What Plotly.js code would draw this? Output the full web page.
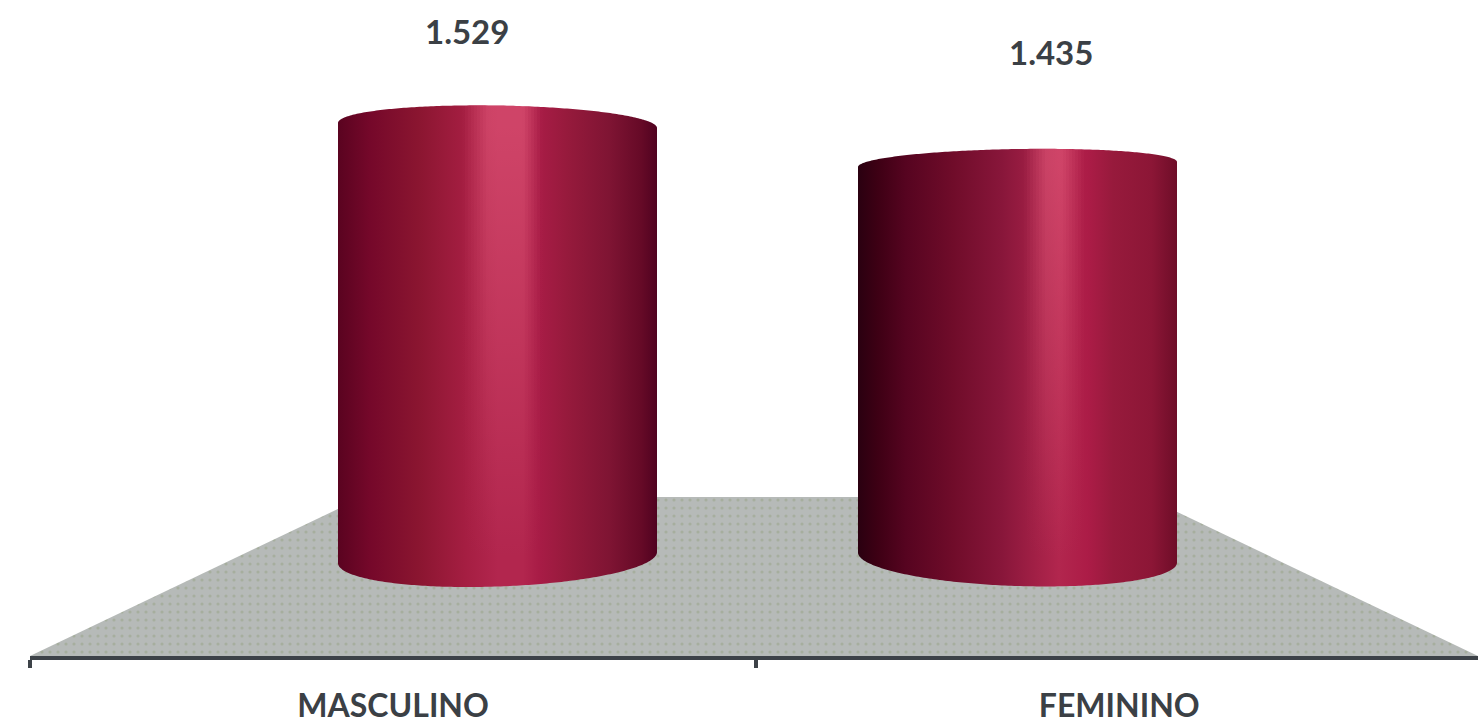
<!DOCTYPE html>
<html>
<head>
<meta charset="utf-8">
<script src="https://cdn.plot.ly/plotly-3.0.1.min.js"></script>
<style>html,body{margin:0;padding:0;background:#fff;overflow:hidden}#chart{width:1478px;height:724px}</style>
</head>
<body>
<div id="chart"></div>
<script>
// Data
var categories = ['MASCULINO', 'FEMININO'];
var values = [1529, 1435];
var valueLabels = ['1.529', '1.435'];

// Layout of the pseudo-3D scene
var W = 1478, H = 724, mL = 30, mT = 0, mB = 68;
var xMin = -0.5, xMax = 1.494, yMax = 1831.4, yMin = 250.7;
var pxX = (W - mL) / (xMax - xMin), pxY = (H - mT - mB) / (yMax - yMin);
var cylinderBase = 488;
var cylinderPxLeft = [338, 858];
var cylinderPxWidth = 319;
var topCurvePx = [20, 15.5];
var topTiltPx = [2.5, -2.5];
var bottomCurvePx = [29, 28.5];
var bottomTiltPx = [-5.5, 5];
var labelOffsetX = [-30.5, 33.5];
var labelOffsetY = [94.5, 112.5];
var gradients = [
  [[0,'#5a0320'],[0.1,'#75082a'],[0.25,'#8a1530'],[0.4,'#a51e42'],[0.5,'#b2264e'],[0.58,'#b2264e'],[0.63,'#a81c46'],[0.72,'#961a3c'],[0.85,'#7f1433'],[0.95,'#660a27'],[1,'#500220']],
  [[0,'#2a0010'],[0.06,'#3d0014'],[0.15,'#560420'],[0.3,'#700c2a'],[0.45,'#88163a'],[0.55,'#a01f45'],[0.63,'#b2264e'],[0.72,'#ac1c47'],[0.8,'#971a3c'],[0.92,'#8c1636'],[1,'#6e0d28']]
];
// Highlight band: [start, full start, full end, end] as fractions of the width
var highlights = [[0.39, 0.47, 0.58, 0.64], [0.52, 0.59, 0.64, 0.71]];
var highlightAlpha = 0.38;
var stripPx = 3;

function toX(px) { return xMin + (px - mL) / pxX; }

function arcY(center, curvePx, tiltPx, t, sign) {
  // t: fraction across the width; returns a y value on the sheared ellipse
  var c = 2 * t - 1, s = Math.sqrt(Math.max(0, 1 - c * c));
  return center + sign * (curvePx * s) / pxY - (tiltPx * c) / pxY;
}

function cylinderPath(i) {
  var xs = [], ys = [], n = 160, k, t, a;
  for (k = 0; k <= n; k++) {
    a = Math.PI * k / n; t = (1 - Math.cos(a)) / 2;
    xs.push(toX(cylinderPxLeft[i] + t * cylinderPxWidth));
    ys.push(arcY(values[i], topCurvePx[i], topTiltPx[i], t, 1));
  }
  for (k = n; k >= 0; k--) {
    a = Math.PI * k / n; t = (1 - Math.cos(a)) / 2;
    xs.push(toX(cylinderPxLeft[i] + t * cylinderPxWidth));
    ys.push(arcY(cylinderBase, bottomCurvePx[i], bottomTiltPx[i], t, -1));
  }
  xs.push(xs[0]); ys.push(ys[0]);
  return {x: xs, y: ys};
}

function bandWeight(h, t) {
  if (t <= h[0] || t >= h[3]) return 0;
  if (t < h[1]) return (t - h[0]) / (h[1] - h[0]);
  if (t > h[2]) return (h[3] - t) / (h[3] - h[2]);
  return 1;
}

var floorTopY = yMax - 497 / pxY;
var traces = [{
  type: 'scatter', mode: 'none', hoverinfo: 'skip', showlegend: false,
  x: [xMin, toX(363), toX(1146), xMax, xMin],
  y: [yMin, floorTopY, floorTopY, yMin, yMin],
  fill: 'toself',
  fillcolor: '#b6bab8',
  fillpattern: {shape: '.', bgcolor: '#b6bab8', fgcolor: '#a6ae9e', size: 8, solidity: 0.12}
}];
categories.forEach(function (c, i) {
  var p = cylinderPath(i);
  traces.push({
    type: 'scatter', mode: 'none', name: c, showlegend: false, hoverinfo: 'name',
    x: p.x, y: p.y, fill: 'toself',
    fillgradient: {type: 'horizontal', colorscale: gradients[i]}
  });
  // highlight fading downwards, built of thin vertical strips
  var h = highlights[i], left = cylinderPxLeft[i], w = cylinderPxWidth;
  var startPx = Math.round(left + h[0] * w), endPx = Math.round(left + h[3] * w);
  for (var px = startPx; px < endPx; px += stripPx) {
    var t0 = (px - left) / w, t1 = (px + stripPx - left) / w;
    var a = highlightAlpha * bandWeight(h, (t0 + t1) / 2);
    if (a <= 0) continue;
    traces.push({
      type: 'scatter', mode: 'none', hoverinfo: 'skip', showlegend: false,
      x: [toX(px), toX(px + stripPx), toX(px + stripPx), toX(px), toX(px)],
      y: [arcY(values[i], topCurvePx[i], topTiltPx[i], t0, 1), arcY(values[i], topCurvePx[i], topTiltPx[i], t1, 1),
          cylinderBase, cylinderBase, arcY(values[i], topCurvePx[i], topTiltPx[i], t0, 1)],
      fill: 'toself',
      fillgradient: {
        type: 'vertical', start: cylinderBase, stop: values[i],
        colorscale: [[0, 'rgba(255,117,146,0)'], [1, 'rgba(255,117,146,' + a.toFixed(3) + ')']]
      }
    });
  }
});
traces.push({
  type: 'scatter', mode: 'markers', xaxis: 'x2', hoverinfo: 'skip', showlegend: false,
  x: [0, 1], y: values, marker: {opacity: 0, size: 1}
});

var annotations = categories.map(function (c, i) {
  return {
    xref: 'x', yref: 'y', x: toX(cylinderPxLeft[i] + cylinderPxWidth / 2), y: values[i],
    xshift: labelOffsetX[i], yshift: labelOffsetY[i],
    text: valueLabels[i], showarrow: false, xanchor: 'center', yanchor: 'middle',
    font: {family: 'Lato, sans-serif', size: 33, weight: 700, color: '#3b4045'}
  };
});

Plotly.newPlot('chart', traces, {
  width: W, height: H,
  margin: {l: mL, r: 0, t: mT, b: mB, pad: 0},
  paper_bgcolor: '#ffffff', plot_bgcolor: '#ffffff',
  showlegend: false,
  annotations: annotations,
  xaxis: {
    range: [xMin, xMax], tickmode: 'array', tickvals: [-0.5, 0.5], ticktext: ['', ''],
    ticks: 'outside', ticklen: 8, tickwidth: 4, tickcolor: '#3d4248',
    showline: true, linecolor: '#3d4248', linewidth: 4,
    showgrid: false, zeroline: false, fixedrange: true
  },
  xaxis2: {
    overlaying: 'x', side: 'bottom', anchor: 'y', range: [xMin, xMax],
    tickmode: 'array', tickvals: [0, 1], ticktext: categories,
    ticks: '', ticklabelstandoff: 28,
    tickfont: {family: 'Lato, sans-serif', size: 32, weight: 700, color: '#3b4045'},
    showline: false, showgrid: false, zeroline: false, fixedrange: true
  },
  yaxis: {range: [yMin, yMax], visible: false, fixedrange: true}
}, {displayModeBar: false, staticPlot: true});
</script>
</body>
</html>
